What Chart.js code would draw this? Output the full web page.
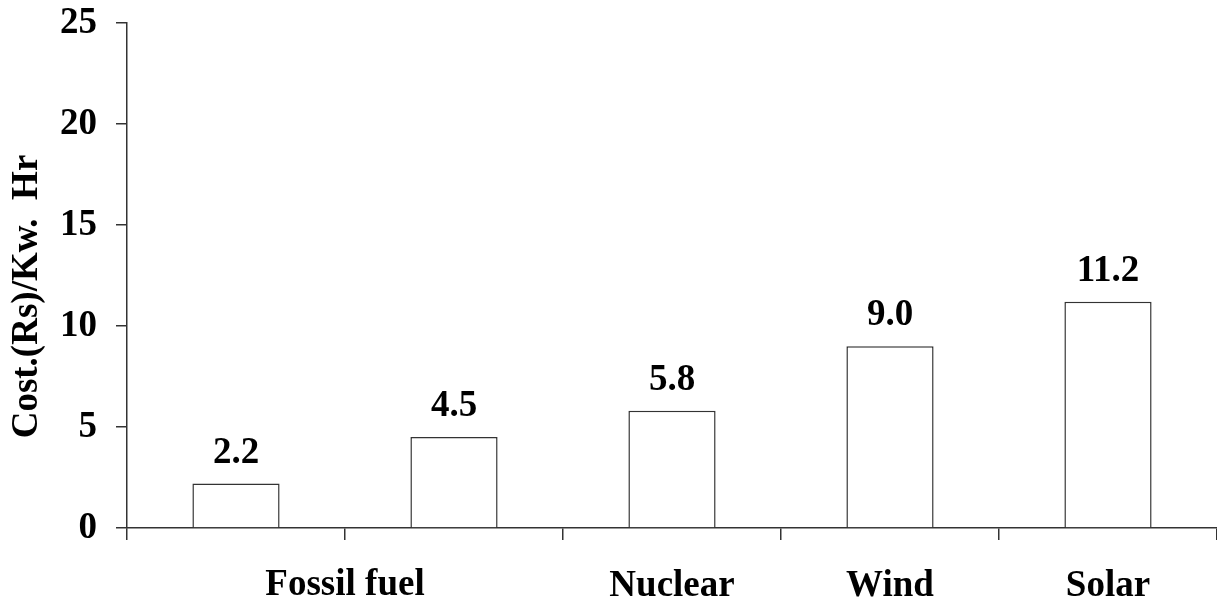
<!DOCTYPE html>
<html>
<head>
<meta charset="utf-8">
<script src="https://cdn.jsdelivr.net/npm/chart.js@4/dist/chart.umd.min.js"></script>
<style>
  html, body { margin: 0; padding: 0; background: #fff; }
  #wrap { width: 1217px; height: 608px; position: relative; }
</style>
</head>
<body>
<div id="wrap"><canvas id="chart"></canvas></div>
<script>
// Cost of electricity per source (Rs per kW-hr)
const categories = ["Fossil fuel", "Fossil fuel", "Nuclear", "Wind", "Solar"];
const costValues = [2.2, 4.5, 5.8, 9.0, 11.2];
const yTicks = [0, 5, 10, 15, 20, 25];
const yTitle = "Cost.(Rs)/Kw.  Hr";

const FONT = "'Liberation Serif', 'Times New Roman', serif";
const INK = "#333333";

// Same name on neighbouring bars -> one label centred under the group
function isGrouped(i) {
    return categories[i] === categories[i - 1] || categories[i] === categories[i + 1];
}

const barLabels = {
    id: "barLabels",
    afterDatasetsDraw(chart) {
        const ctx = chart.ctx;
        const meta = chart.getDatasetMeta(0);
        ctx.save();
        ctx.font = "bold 37px " + FONT;
        ctx.fillStyle = "#000";
        ctx.textAlign = "center";
        ctx.textBaseline = "alphabetic";
        meta.data.forEach((bar, i) => {
            ctx.fillText(costValues[i].toFixed(1), bar.x, bar.y - 21);
        });
        ctx.restore();
    }
};

const extraText = {
    id: "extraText",
    afterDraw(chart) {
        const x = chart.scales.x;
        const area = chart.chartArea;
        const ctx = chart.ctx;
        ctx.save();
        ctx.fillStyle = "#000";
        ctx.textAlign = "center";
        ctx.textBaseline = "middle";

        // grouped category labels
        ctx.font = "bold 37px " + FONT;
        let i = 0;
        while (i < categories.length) {
            let j = i;
            while (j + 1 < categories.length && categories[j + 1] === categories[i]) j++;
            if (j > i) {
                const mid = (x.getPixelForValue(i) + x.getPixelForValue(j)) / 2;
                ctx.fillText(categories[i], mid, x.top + 57);
            }
            i = j + 1;
        }

        // y axis title, sits a little below the middle of the axis
        ctx.translate(27, (area.top + area.bottom) / 2 + 21);
        ctx.rotate(-Math.PI / 2);
        ctx.font = "bold 37px " + FONT;
        ctx.fillText(yTitle, 0, 0);
        ctx.restore();
    }
};

new Chart(document.getElementById("chart"), {
    type: "bar",
    data: {
        labels: categories,
        datasets: [{
            data: costValues,
            backgroundColor: "#ffffff",
            borderColor: INK,
            borderWidth: 1.5,
            categoryPercentage: 1.0,
            barPercentage: 0.4
        }]
    },
    options: {
        responsive: true,
        maintainAspectRatio: false,
        animation: false,
        layout: { padding: { top: 23, right: 0, left: 0, bottom: 0 } },
        plugins: {
            legend: { display: false },
            tooltip: { enabled: false }
        },
        scales: {
            x: {
                offset: true,
                grid: {
                    display: true,
                    offset: true,
                    drawOnChartArea: false,
                    drawTicks: true,
                    tickLength: 12,
                    color: INK,
                    lineWidth: 1.5
                },
                border: { display: true, color: INK, width: 1.5 },
                ticks: {
                    color: "#000",
                    font: { family: FONT, size: 37, weight: "bold" },
                    padding: 24,
                    maxRotation: 0,
                    autoSkip: false,
                    callback: function(value, index) {
                        return isGrouped(index) ? "" : categories[index];
                    }
                },
                afterFit(scale) {
                    scale.height = 80;
                    scale.paddingLeft = 0;
                    scale.paddingRight = 0;
                }
            },
            y: {
                min: 0,
                max: 25,
                afterBuildTicks(scale) {
                    scale.ticks = yTicks.map(v => ({ value: v }));
                },
                grid: {
                    display: true,
                    drawOnChartArea: false,
                    drawTicks: true,
                    tickLength: 11,
                    color: INK,
                    lineWidth: 1.5
                },
                border: { display: true, color: INK, width: 1.5 },
                ticks: {
                    color: "#000",
                    font: { family: FONT, size: 37, weight: "bold" },
                    padding: 19
                },
                afterFit(scale) {
                    scale.width = 127;
                    scale.paddingTop = 0;
                    scale.paddingBottom = 0;
                }
            }
        }
    },
    plugins: [barLabels, extraText]
});
</script>
</body>
</html>
